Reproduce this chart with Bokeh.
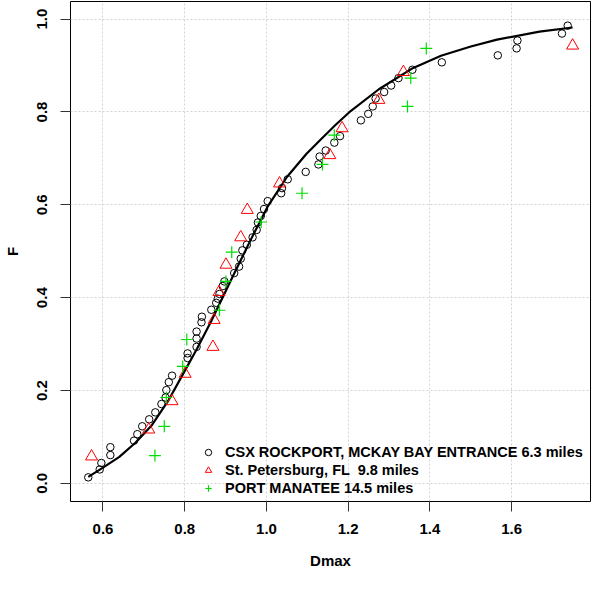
from bokeh.plotting import figure
from bokeh.models import Range1d, FixedTicker, NumeralTickFormatter, Legend, LegendItem
from bokeh.embed import file_html
from bokeh.resources import INLINE

# Fitted CDF curve
curve_d = [0.564, 0.600, 0.640, 0.680, 0.720, 0.761, 0.793, 0.830, 0.865, 0.921,
           0.961, 1.002, 1.050, 1.098, 1.134, 1.170, 1.202, 1.275, 1.355, 1.427,
           1.500, 1.564, 1.668, 1.749]
curve_f = [0.014, 0.034, 0.057, 0.088, 0.126, 0.180, 0.231, 0.290, 0.350, 0.452,
           0.524, 0.595, 0.660, 0.710, 0.742, 0.773, 0.799, 0.849, 0.893, 0.921,
           0.941, 0.956, 0.973, 0.982]

# CSX ROCKPORT, MCKAY BAY ENTRANCE
csx_d = [0.564, 0.592, 0.596, 0.618, 0.618, 0.676, 0.684, 0.696, 0.713, 0.728,
         0.743, 0.753, 0.755, 0.761, 0.769, 0.807, 0.807, 0.829, 0.829, 0.829,
         0.841, 0.842, 0.865, 0.877, 0.881, 0.885, 0.893, 0.897, 0.921, 0.933,
         0.937, 0.941, 0.952, 0.966, 0.976, 0.979, 0.986, 0.994, 1.003, 1.036,
         1.038, 1.052, 1.096, 1.127, 1.130, 1.145, 1.166, 1.180, 1.231, 1.249,
         1.260, 1.267, 1.288, 1.305, 1.323, 1.357, 1.429, 1.566, 1.612, 1.614,
         1.723, 1.737]
csx_f = [0.013, 0.030, 0.044, 0.061, 0.078, 0.092, 0.106, 0.123, 0.138, 0.153,
         0.171, 0.185, 0.201, 0.218, 0.232, 0.270, 0.280, 0.294, 0.312, 0.327,
         0.347, 0.359, 0.374, 0.389, 0.398, 0.408, 0.425, 0.435, 0.453, 0.467,
         0.484, 0.502, 0.514, 0.530, 0.546, 0.562, 0.576, 0.591, 0.608, 0.625,
         0.636, 0.655, 0.671, 0.687, 0.704, 0.717, 0.734, 0.748, 0.782, 0.796,
         0.812, 0.829, 0.843, 0.857, 0.873, 0.891, 0.907, 0.922, 0.937, 0.954,
         0.969, 0.986]

# St. Petersburg, FL 9.8 miles
stp_d = [0.572, 0.712, 0.769, 0.801, 0.869, 0.872, 0.884, 0.901, 0.937, 0.953,
         1.032, 1.155, 1.185, 1.275, 1.335, 1.749]
stp_f = [0.058, 0.116, 0.177, 0.236, 0.294, 0.352, 0.412, 0.471, 0.530, 0.589,
         0.646, 0.707, 0.765, 0.826, 0.886, 0.943]

# PORT MANATEE 14.5 miles
pm_d = [0.727, 0.750, 0.755, 0.795, 0.805, 0.885, 0.901, 0.915, 0.987, 1.087,
        1.137, 1.166, 1.345, 1.353, 1.391]
pm_f = [0.060, 0.123, 0.185, 0.252, 0.310, 0.373, 0.435, 0.498, 0.563, 0.625,
        0.687, 0.750, 0.812, 0.873, 0.937]

x_ticks = [0.6, 0.8, 1.0, 1.2, 1.4, 1.6]
y_ticks = [0.0, 0.2, 0.4, 0.6, 0.8, 1.0]

labels = ["CSX ROCKPORT, MCKAY BAY ENTRANCE 6.3 miles",
          "St. Petersburg, FL  9.8 miles",
          "PORT MANATEE 14.5 miles"]

FONT = "Liberation Sans"

p = figure(width=591, height=573,
           x_range=Range1d(0.5205, 1.7928), y_range=Range1d(-0.039, 1.038),
           output_backend="svg", toolbar_location=None,
           min_border_left=69, min_border_right=1, min_border_top=1,
           min_border_bottom=72)
p.background_fill_color = "white"
p.border_fill_color = "white"
p.outline_line_color = "black"
p.outline_line_width = 1

for ax in (p.xaxis[0], p.yaxis[0]):
    ax.axis_line_color = None
    ax.major_tick_in = 0
    ax.major_tick_out = 10
    ax.major_tick_line_color = "#333333"
    ax.minor_tick_line_color = None
    ax.major_label_text_font = FONT
    ax.major_label_text_font_style = "bold"
    ax.major_label_text_font_size = "15px"
    ax.major_label_text_color = "black"
    ax.axis_label_text_font = FONT
    ax.axis_label_text_font_style = "bold"
    ax.axis_label_text_font_size = "15px"
    ax.axis_label_text_color = "black"
    ax.formatter = NumeralTickFormatter(format="0.0")

p.xaxis.ticker = FixedTicker(ticks=x_ticks)
p.yaxis.ticker = FixedTicker(ticks=y_ticks)
p.xaxis.axis_label = "Dmax"
p.yaxis.axis_label = "F"
p.xaxis.major_label_standoff = 12
p.xaxis.axis_label_standoff = 15
p.yaxis.major_label_standoff = 13
p.yaxis.axis_label_standoff = 14
p.yaxis.major_label_orientation = "vertical"

for g in (p.xgrid[0], p.ygrid[0]):
    g.grid_line_color = "#d3d3d3"
    g.grid_line_dash = "2 2"
    g.grid_line_width = 1
p.xgrid.ticker = FixedTicker(ticks=x_ticks)
p.ygrid.ticker = FixedTicker(ticks=y_ticks)

p.line(curve_d, curve_f, line_color="black", line_width=2.2)

r1 = p.scatter(csx_d, csx_f, marker="circle", size=7.5, fill_color=None,
               line_color="black", line_width=1)
r2 = p.scatter(stp_d, stp_f, marker="triangle", size=12, fill_color=None,
               line_color="#ff0000", line_width=1)
r3 = p.scatter(pm_d, pm_f, marker="cross", size=12,
               line_color="#00dd00", line_width=1.2)

legend = Legend(items=[LegendItem(label=labels[0], renderers=[r1]),
                       LegendItem(label=labels[1], renderers=[r2]),
                       LegendItem(label=labels[2], renderers=[r3])],
                location=(130, 4), orientation="vertical",
                border_line_color=None, background_fill_alpha=0,
                padding=0, margin=0, spacing=0,
                glyph_width=16, glyph_height=18, label_height=18,
                label_standoff=9,
                label_text_font=FONT, label_text_font_style="bold",
                label_text_font_size="14.5px", label_text_color="black")
p.add_layout(legend, "center")

open("out.html", "w").write(file_html(p, INLINE))
